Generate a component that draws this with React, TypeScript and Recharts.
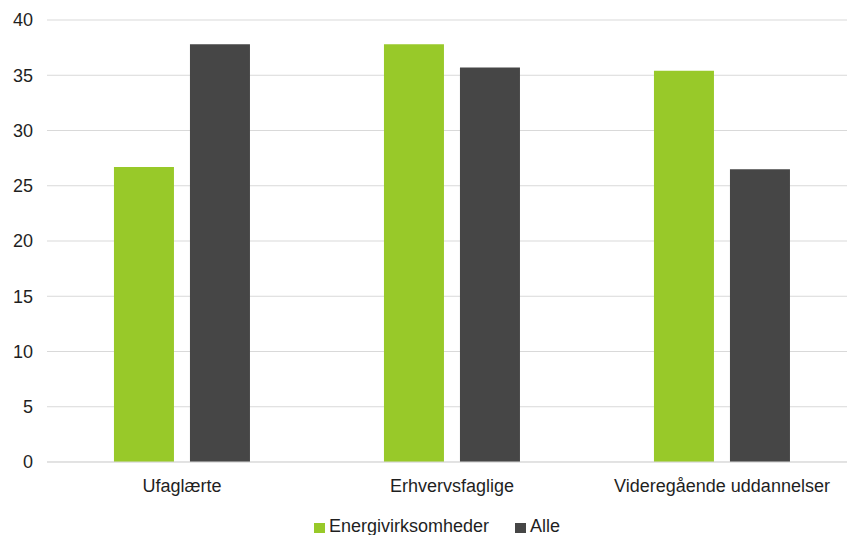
import React from "react";
import { BarChart, Bar, CartesianGrid, XAxis, YAxis, Legend } from "recharts";

const categories = ["Ufaglærte", "Erhvervsfaglige", "Videregående uddannelser"];
const energi = [26.7, 37.8, 35.4];
const alle = [37.8, 35.7, 26.5];
const yTicks = [0, 5, 10, 15, 20, 25, 30, 35, 40];

const series = [
  { key: "Energivirksomheder", color: "#98c929" },
  { key: "Alle", color: "#464646" },
];
const TEXT = "#1f1f1f";
const FONT = 18;

const data = categories.map((name, i) => ({
  name,
  Energivirksomheder: energi[i],
  Alle: alle[i],
}));

function LegendBox() {
  return (
    <div style={{ display: "flex", alignItems: "center", fontSize: FONT, color: TEXT, lineHeight: "20px" }}>
      {series.map((s) => (
        <div key={s.key} style={{ display: "flex", alignItems: "center", marginRight: 26 }}>
          <span style={{ width: 11, height: 10, background: s.color, marginRight: 4, marginTop: 3 }} />
          <span>{s.key}</span>
        </div>
      ))}
    </div>
  );
}

export default function App() {
  return (
    <div style={{ position: "absolute", left: 0, top: 0, width: 847, height: 535, overflow: "hidden", fontFamily: "'Liberation Sans', Arial, sans-serif" }}>
      <BarChart
        width={857}
        height={535}
        data={data}
        margin={{ top: 20, right: 0, left: 0, bottom: 0 }}
        barCategoryGap="24.8%"
        barGap={16}
      >
        <CartesianGrid vertical={false} stroke="#d9d9d9" />
        <XAxis
          dataKey="name"
          axisLine={{ stroke: "#d9d9d9" }}
          tickLine={false}
          tickSize={0}
          tickMargin={17}
          height={53}
          tick={{ fill: TEXT, fontSize: FONT }}
        />
        <YAxis
          domain={[0, 40]}
          ticks={yTicks}
          width={47}
          axisLine={false}
          tickLine={false}
          tickSize={0}
          tickMargin={14}
          tick={{ fill: TEXT, fontSize: FONT }}
        />
        <Legend
          content={<LegendBox />}
          wrapperStyle={{ position: "absolute", top: 516, left: 314, width: "auto" }}
        />
        {series.map((s) => (
          <Bar key={s.key} dataKey={s.key} fill={s.color} isAnimationActive={false} />
        ))}
      </BarChart>
    </div>
  );
}
